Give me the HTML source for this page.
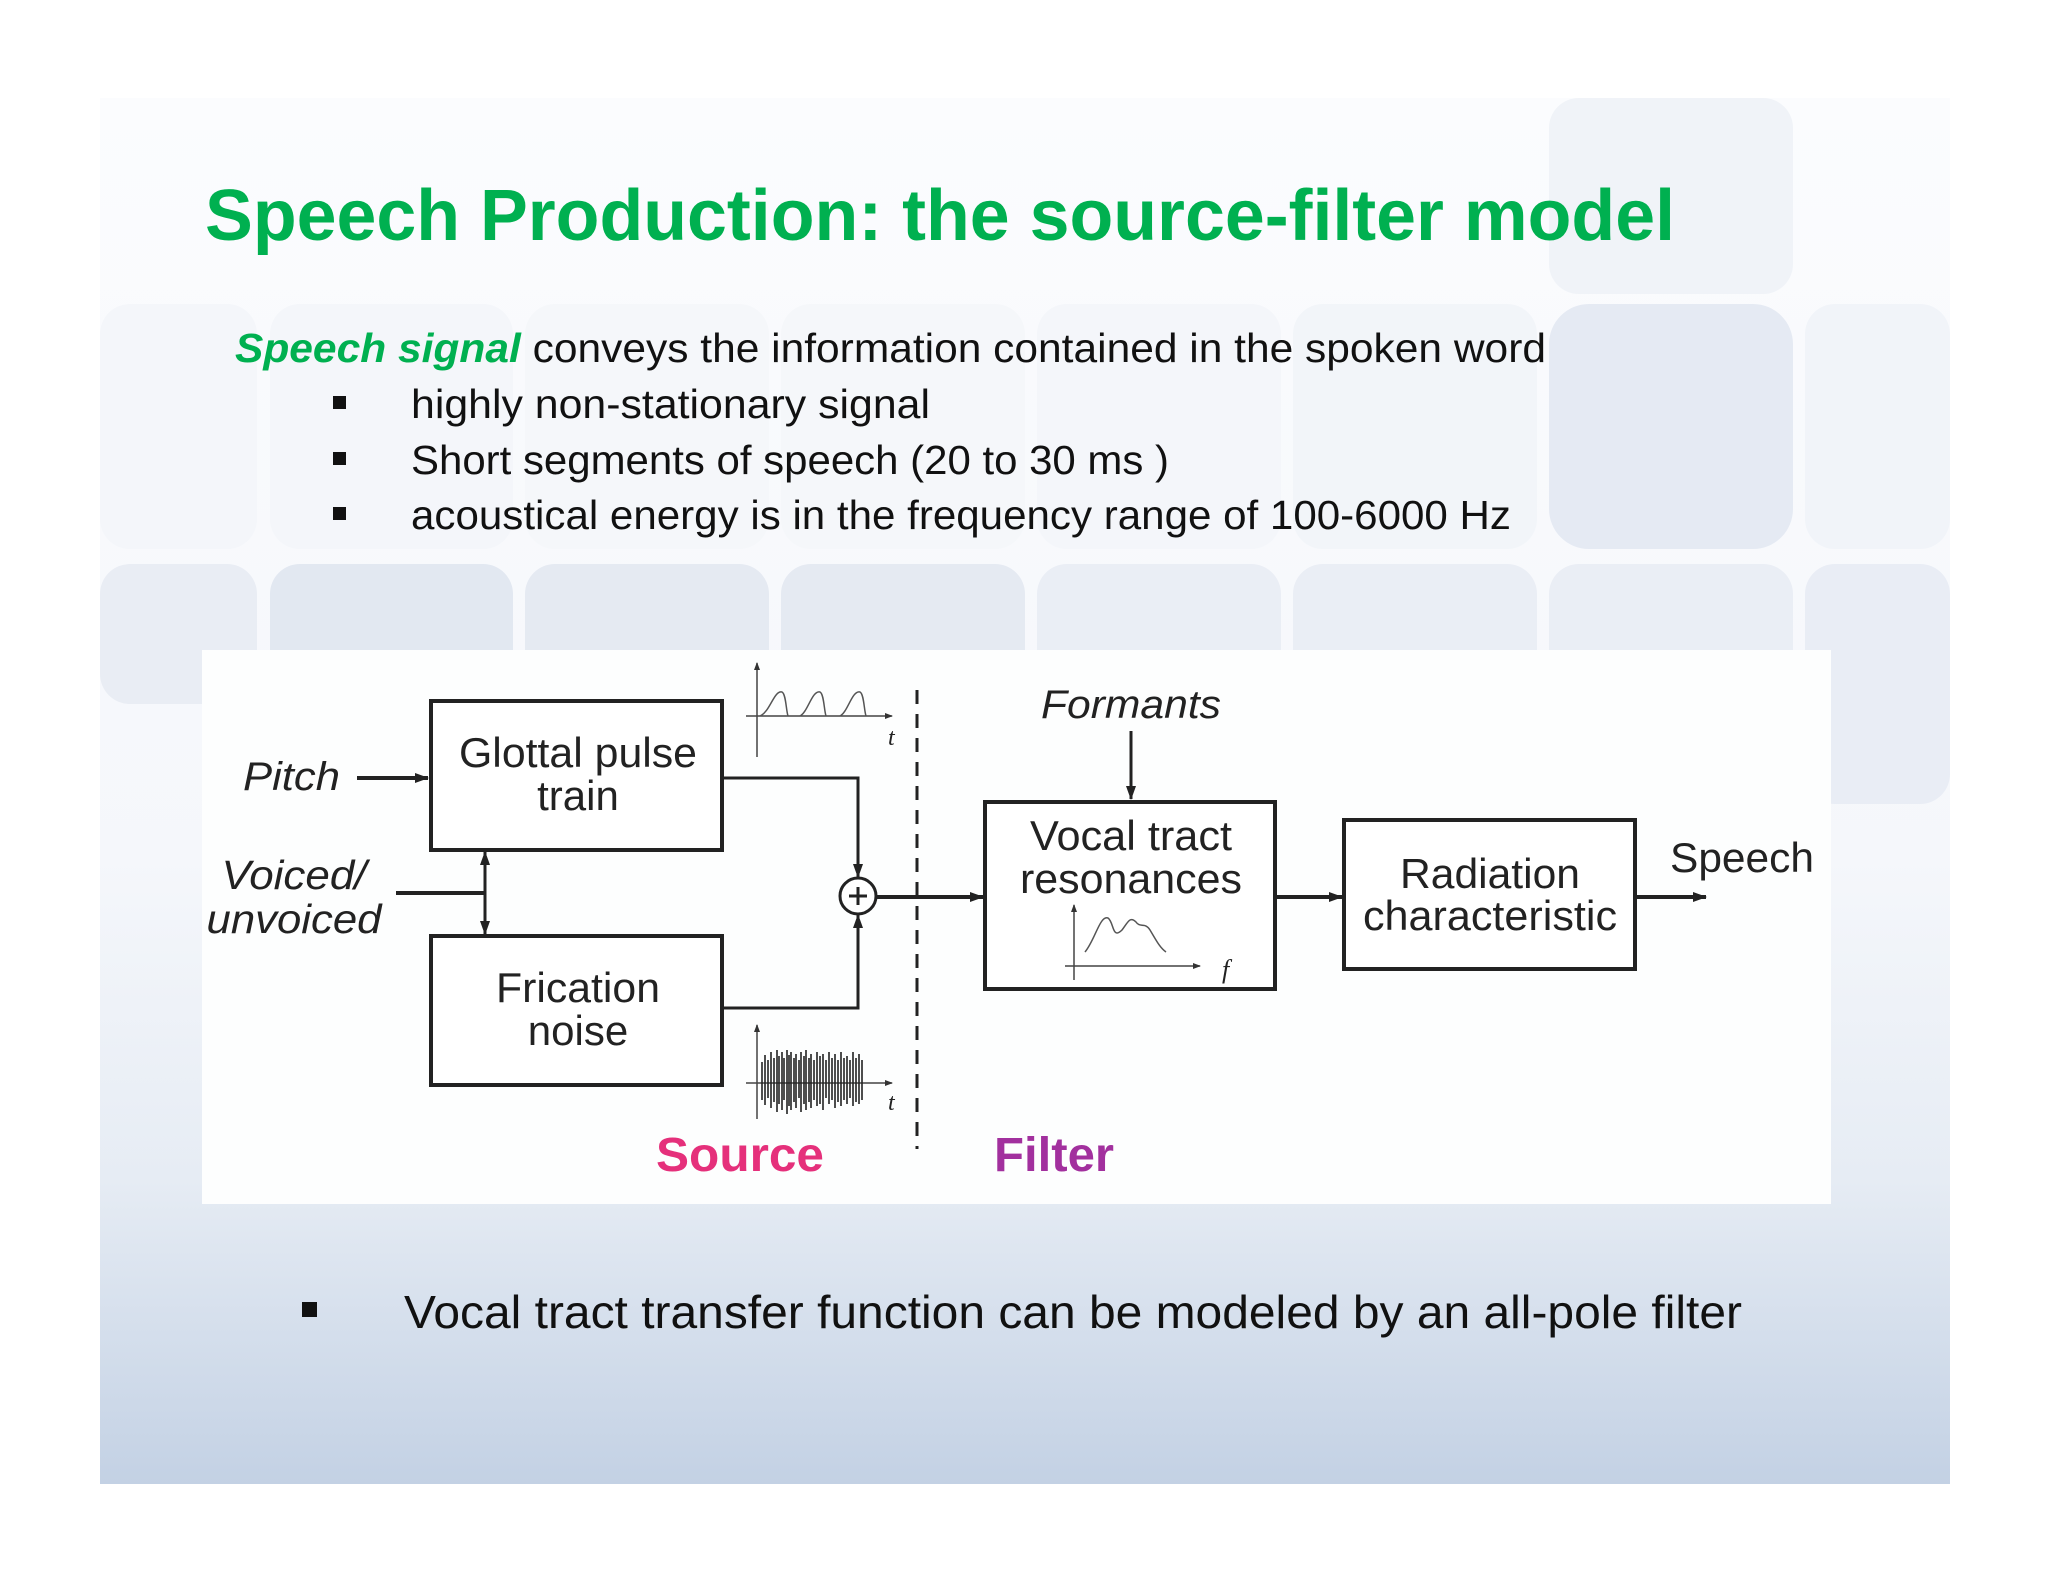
<!DOCTYPE html>
<html><head><meta charset="utf-8"><style>
html,body{margin:0;padding:0;background:#fff;}
svg{display:block}
</style></head><body>
<svg width="2048" height="1582" viewBox="0 0 2048 1582" xmlns="http://www.w3.org/2000/svg">
<defs>
<linearGradient id="bg" x1="0" y1="0" x2="0" y2="1">
<stop offset="0" stop-color="#fbfcfe"/>
<stop offset="0.55" stop-color="#f5f7fb"/>
<stop offset="0.78" stop-color="#e6ecf4"/>
<stop offset="1" stop-color="#c3d1e4"/>
</linearGradient>
<marker id="ar" markerWidth="14" markerHeight="12" refX="13" refY="6" orient="auto-start-reverse" markerUnits="userSpaceOnUse"><path d="M0,1 L14,6 L0,11 Z" fill="#222"/></marker>
<marker id="as" markerWidth="8" markerHeight="8" refX="7" refY="4" orient="auto" markerUnits="userSpaceOnUse"><path d="M0,1 L8,4 L0,7 Z" fill="#333"/></marker>
</defs>
<rect x="100" y="98" width="1850" height="1386" fill="url(#bg)"/>
<!-- tiles -->
<g>
<rect x="1549" y="98" width="244" height="196" rx="30" fill="#f0f3f8"/>
<rect x="1549" y="304" width="244" height="245" rx="40" fill="#e5eaf3"/>
<rect x="1805" y="304" width="145" height="245" rx="30" fill="#f1f4f9"/>
<rect x="100" y="304" width="157" height="245" rx="30" fill="#f4f6fa"/>
<rect x="270" y="304" width="243" height="245" rx="30" fill="#f4f6fa"/>
<rect x="525" y="304" width="244" height="245" rx="30" fill="#f5f7fa"/>
<rect x="781" y="304" width="244" height="245" rx="30" fill="#f5f7fa"/>
<rect x="1037" y="304" width="244" height="245" rx="30" fill="#f4f6fa"/>
<rect x="1293" y="304" width="244" height="245" rx="30" fill="#f2f5f9"/>
<rect x="100" y="564" width="157" height="140" rx="30" fill="#e9edf4"/>
<rect x="270" y="564" width="243" height="140" rx="30" fill="#e2e8f1"/>
<rect x="525" y="564" width="244" height="140" rx="30" fill="#e5eaf2"/>
<rect x="781" y="564" width="244" height="140" rx="30" fill="#e5eaf2"/>
<rect x="1037" y="564" width="244" height="140" rx="30" fill="#eaeef5"/>
<rect x="1293" y="564" width="244" height="140" rx="30" fill="#eaeef5"/>
<rect x="1549" y="564" width="244" height="140" rx="30" fill="#eaeef5"/>
<rect x="1805" y="564" width="145" height="240" rx="30" fill="#e9edf5"/>
</g>
<!-- title -->
<text x="205" y="240" font-family="Liberation Sans, sans-serif" font-weight="bold" font-size="72" fill="#00b050" textLength="1470" lengthAdjust="spacingAndGlyphs">Speech Production: the source-filter model</text>
<g font-family="Liberation Sans, sans-serif" font-size="41" fill="#111">
<text x="235" y="362" textLength="1311" lengthAdjust="spacingAndGlyphs"><tspan fill="#00b050" font-style="italic" font-weight="bold">Speech signal</tspan> conveys  the information contained in the spoken word</text>
<rect x="333" y="396" width="13" height="13" fill="#111"/>
<text x="411" y="418" textLength="519" lengthAdjust="spacingAndGlyphs">highly non-stationary signal</text>
<rect x="333" y="452" width="13" height="13" fill="#111"/>
<text x="411" y="474" textLength="758" lengthAdjust="spacingAndGlyphs">Short segments of speech (20 to 30 ms )</text>
<rect x="333" y="507" width="13" height="13" fill="#111"/>
<text x="411" y="529" textLength="1100" lengthAdjust="spacingAndGlyphs">acoustical energy is in the frequency range of 100-6000 Hz</text>
</g>
<!-- diagram panel -->
<rect x="202" y="650" width="1629" height="554" fill="#fdfefe"/>
<g stroke="#222" fill="none">
<rect x="431" y="701" width="291" height="149" stroke-width="4" fill="#fff"/>
<rect x="431" y="936" width="291" height="149" stroke-width="4" fill="#fff"/>
<rect x="985" y="802" width="290" height="187" stroke-width="4" fill="#fff"/>
<rect x="1344" y="820" width="291" height="149" stroke-width="4" fill="#fff"/>
<line x1="357" y1="778" x2="428" y2="778" stroke-width="4" marker-end="url(#ar)"/>
<line x1="396" y1="893" x2="485" y2="893" stroke-width="4"/>
<line x1="485" y1="852" x2="485" y2="934" stroke-width="3" marker-end="url(#ar)" marker-start="url(#ar)"/>
<polyline points="722,778 858,778 858,877" stroke-width="3" marker-end="url(#ar)"/>
<polyline points="722,1008 858,1008 858,915" stroke-width="3" marker-end="url(#ar)"/>
<circle cx="858" cy="896" r="18" stroke-width="3" fill="#fff"/>
<line x1="849" y1="896" x2="867" y2="896" stroke-width="3"/>
<line x1="858" y1="887" x2="858" y2="905" stroke-width="3"/>
<line x1="876" y1="897" x2="983" y2="897" stroke-width="4" marker-end="url(#ar)"/>
<line x1="917" y1="690" x2="917" y2="1149" stroke-width="3" stroke-dasharray="14,10"/>
<line x1="1131" y1="731" x2="1131" y2="799" stroke-width="3" marker-end="url(#ar)"/>
<line x1="1275" y1="897" x2="1342" y2="897" stroke-width="4" marker-end="url(#ar)"/>
<line x1="1636" y1="897" x2="1706" y2="897" stroke-width="4" marker-end="url(#ar)"/>
<!-- glottal plot -->
<line x1="757" y1="757" x2="757" y2="663" stroke-width="1.5" stroke="#444" marker-end="url(#as)"/>
<line x1="746" y1="716" x2="892" y2="716" stroke-width="1.5" stroke="#444" marker-end="url(#as)"/>
<path d="M760,716 C770,712 774,690 782,692 C786,694 786,710 788,716 M800,716 C808,712 812,690 820,692 C824,694 824,710 826,716 M840,716 C848,712 852,690 860,692 C864,694 864,710 866,716" stroke="#555" stroke-width="1.5"/>
<!-- noise plot -->
<line x1="757" y1="1119" x2="757" y2="1025" stroke-width="1.5" stroke="#444" marker-end="url(#as)"/>
<line x1="746" y1="1083" x2="892" y2="1083" stroke-width="1.5" stroke="#444" marker-end="url(#as)"/>
<path d="M762,1062V1100M765,1055V1105M768,1060V1098M771,1052V1108M774,1058V1102M777,1050V1112M779,1056V1104M782,1052V1110M784,1058V1100M787,1050V1114M789,1055V1106M791,1052V1110M794,1058V1102M796,1054V1108M799,1060V1098M801,1052V1112M804,1056V1104M806,1050V1110M809,1058V1102M811,1054V1108M814,1060V1100M817,1052V1106M820,1056V1104M823,1054V1110M826,1060V1098M829,1052V1104M832,1058V1100M835,1054V1108M838,1060V1102M841,1052V1106M844,1058V1100M847,1056V1104M850,1060V1098M853,1052V1106M856,1058V1102M859,1054V1104M862,1060V1100" stroke="#222" stroke-width="1.6"/>
<!-- vocal plot -->
<line x1="1074" y1="980" x2="1074" y2="905" stroke-width="1.5" stroke="#444" marker-end="url(#as)"/>
<line x1="1065" y1="966" x2="1200" y2="966" stroke-width="1.5" stroke="#444" marker-end="url(#as)"/>
<path d="M1085,952 C1095,940 1100,915 1108,918 C1114,922 1112,940 1122,930 C1128,922 1130,916 1136,922 C1140,928 1145,922 1150,930 C1156,940 1160,948 1166,952" stroke="#555" stroke-width="1.5"/>
</g>
<g font-family="Liberation Sans, sans-serif" fill="#222">
<text x="888" y="745" font-size="24" font-style="italic" font-family="Liberation Serif, serif">t</text>
<text x="888" y="1110" font-size="24" font-style="italic" font-family="Liberation Serif, serif">t</text>
<text x="1222" y="978" font-size="26" font-style="italic" font-family="Liberation Serif, serif">f</text>
<text x="243" y="790" font-size="40" font-style="italic" textLength="97" lengthAdjust="spacingAndGlyphs">Pitch</text>
<text x="294" y="889" font-size="41" font-style="italic" text-anchor="middle" textLength="145" lengthAdjust="spacingAndGlyphs">Voiced/</text>
<text x="294" y="933" font-size="41" font-style="italic" text-anchor="middle" textLength="175" lengthAdjust="spacingAndGlyphs">unvoiced</text>
<text x="1131" y="718" font-size="40" font-style="italic" text-anchor="middle" textLength="180" lengthAdjust="spacingAndGlyphs">Formants</text>
<text x="1670" y="872" font-size="42" textLength="144" lengthAdjust="spacingAndGlyphs">Speech</text>
<g font-size="42" text-anchor="middle">
<text x="578" y="767" textLength="238" lengthAdjust="spacingAndGlyphs">Glottal pulse</text>
<text x="578" y="810">train</text>
<text x="578" y="1002" textLength="164" lengthAdjust="spacingAndGlyphs">Frication</text>
<text x="578" y="1045">noise</text>
<text x="1131" y="850" textLength="202" lengthAdjust="spacingAndGlyphs">Vocal tract</text>
<text x="1131" y="893" textLength="222" lengthAdjust="spacingAndGlyphs">resonances</text>
<text x="1490" y="888" textLength="180" lengthAdjust="spacingAndGlyphs">Radiation</text>
<text x="1490" y="930" textLength="254" lengthAdjust="spacingAndGlyphs">characteristic</text>
</g>
<text x="740" y="1171" font-size="48" font-weight="bold" fill="#e5307b" text-anchor="middle" textLength="168" lengthAdjust="spacingAndGlyphs">Source</text>
<text x="1054" y="1171" font-size="48" font-weight="bold" fill="#a2309e" text-anchor="middle" textLength="120" lengthAdjust="spacingAndGlyphs">Filter</text>
</g>
<rect x="302" y="1302" width="15" height="15" fill="#111"/>
<text x="404" y="1328" font-family="Liberation Sans, sans-serif" font-size="46" fill="#111" textLength="1338" lengthAdjust="spacingAndGlyphs">Vocal tract transfer function can be modeled by an all-pole filter</text>
</svg>
</body></html>
